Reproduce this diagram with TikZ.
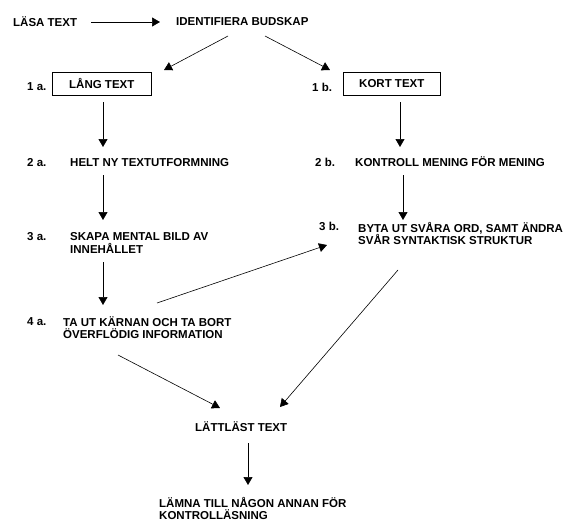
\documentclass[tikz,border=0pt]{standalone}
\usepackage{fontspec}
\setmainfont{Liberation Sans}
\usepackage{tikz}
\usetikzlibrary{arrows.meta}

\begin{document}
\begin{tikzpicture}[x=1pt,y=-1pt,
    txt/.style={anchor=west,inner sep=0pt,align=left,
      font=\bfseries\fontsize{11.5}{12.5}\selectfont},
    stepbox/.style={txt,draw,line width=0.6pt,minimum height=23pt},
    pil/.style={-{Triangle[length=8pt,width=9pt]},line width=0.6pt}]
    \useasboundingbox (0,0) rectangle (568,522) ;

    \node[txt] (lasa) at (13,22) {LÄSA TEXT} ;
    \node[txt] (ident) at (176,22) {IDENTIFIERA BUDSKAP} ;

    \node[txt] (n1a) at (27,87) {1 a.} ;
    \node[stepbox,minimum width=99pt] (lang) at (52,83.5) {LÅNG TEXT} ;
    \node[txt] (n1b) at (312,87) {1 b.} ;
    \node[stepbox,minimum width=97pt] (kort) at (343,83.5) {KORT TEXT} ;

    \node[txt] (n2a) at (27,163) {2 a.} ;
    \node[txt] (helt) at (70,163) {HELT NY TEXTUTFORMNING} ;
    \node[txt] (n2b) at (315,162) {2 b.} ;
    \node[txt] (kontroll) at (355,162) {KONTROLL MENING FÖR MENING} ;

    \node[txt] (n3a) at (27,237) {3 a.} ;
    \node[txt] (skapa) at (70,243) {SKAPA MENTAL BILD AV\\INNEHÅLLET} ;
    \node[txt] (n3b) at (319,226) {3 b.} ;
    \node[txt] (byta) at (358,233.5) {BYTA UT SVÅRA ORD, SAMT ÄNDRA\\SVÅR SYNTAKTISK STRUKTUR} ;

    \node[txt] (n4a) at (27,322) {4 a.} ;
    \node[txt] (kärna) at (63,327.5) {TA UT KÄRNAN OCH TA BORT\\ÖVERFLÖDIG INFORMATION} ;

    \node[txt] (lattlast) at (195,427) {LÄTTLÄST TEXT} ;
    \node[txt] (lamna) at (159,508.5) {LÄMNA TILL NÅGON ANNAN FÖR\\KONTROLLÄSNING} ;

    \draw[pil] ([shift={(78,0)}]lasa.west) -- ([shift={(-16,0)}]ident.west) ;
    \draw[pil] ([shift={(52,14)}]ident.west) -- ([shift={(112,-13.5)}]lang.west) ;
    \draw[pil] ([shift={(89,14)}]ident.west) -- ([shift={(-13,-13.5)}]kort.west) ;

    \draw[pil] ([shift={(51,18.5)}]lang.west) -- ([shift={(33,-16)}]helt.west) ;
    \draw[pil] ([shift={(33,12)}]helt.west) -- ([shift={(33,-23)}]skapa.west) ;
    \draw[pil] ([shift={(33,19)}]skapa.west) -- ([shift={(40,-22.5)}]kärna.west) ;
    \draw[pil] ([shift={(94,-24.5)}]kärna.west) -- ([shift={(-31,11.5)}]byta.west) ;

    \draw[pil] ([shift={(57,18.5)}]kort.west) -- ([shift={(45,-15)}]kontroll.west) ;
    \draw[pil] ([shift={(48,13)}]kontroll.west) -- ([shift={(45,-13.5)}]byta.west) ;

    \draw[pil] ([shift={(40,36.5)}]byta.west) -- ([shift={(85,-20)}]lattlast.west) ;
    \draw[pil] ([shift={(55,27.5)}]kärna.west) -- ([shift={(25,-19)}]lattlast.west) ;
    \draw[pil] ([shift={(53,16)}]lattlast.west) -- ([shift={(89,-23.5)}]lamna.west) ;
  \end{tikzpicture}
\end{document}
